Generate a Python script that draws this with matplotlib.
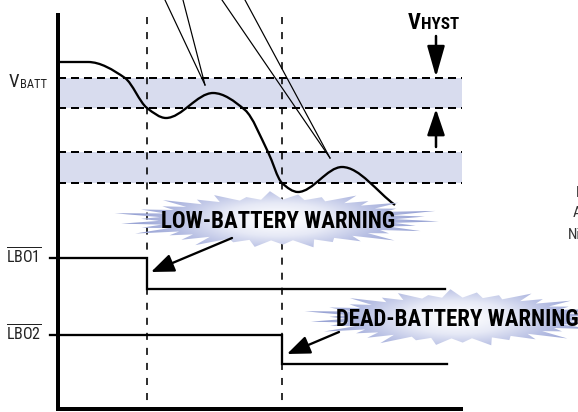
import numpy as np
import matplotlib
matplotlib.use('Agg')
import matplotlib.pyplot as plt
from matplotlib.path import Path
from matplotlib.patches import PathPatch, Rectangle
from matplotlib import font_manager as fm
from matplotlib.colors import LinearSegmentedColormap

names = {f.name for f in fm.fontManager.ttflist}
NARROW = next((n for n in ['Roboto Condensed', 'Archivo Narrow', 'PT Sans Narrow', 'DejaVu Sans']
               if n in names), 'DejaVu Sans')
FAM = [NARROW, 'DejaVu Sans']
plt.rcParams['font.family'] = FAM
plt.rcParams['mathtext.fontset'] = 'custom'
plt.rcParams['mathtext.rm'] = NARROW
plt.rcParams['mathtext.it'] = NARROW
plt.rcParams['mathtext.bf'] = NARROW + ':bold'

# ---------------- data (schematic coordinates) ----------------
event_times = [147, 282]                 # comparator trip instants
threshold_levels = [78, 108, 152, 183]   # upper/lower thresholds of both comparators
hyst_bands = [(78, 108), (152, 183)]
batt_t = [58, 88, 125, 147, 166, 213, 245, 268, 282, 298, 342, 395]
batt_v = [62, 62, 78, 108, 118, 93, 110, 152, 183, 192, 167, 205]
lbo1_t = [58, 147, 147, 445]
lbo1_v = [258, 258, 289, 289]
lbo2_t = [58, 282, 282, 447]
lbo2_v = [335, 335, 364, 364]
signal_labels = [r'$\overline{\mathrm{LBO1}}$', r'$\overline{\mathrm{LBO2}}$']
warning_labels = ['LOW-BATTERY WARNING', 'DEAD-BATTERY WARNING']
side_labels = ['Li-ION', 'ALKALINE', 'NiMH']

W, H = 578, 412
fig = plt.figure(figsize=(W / 100, H / 100), dpi=100)
ax = fig.add_axes([0, 0, 1, 1])
ax.set_xlim(0, W)
ax.set_ylim(H, 0)
ax.axis('off')

PX = 0.72  # points per pixel

# hysteresis bands
for lo, hi in hyst_bands:
    ax.add_patch(Rectangle((58, lo), 404, hi - lo, facecolor='#d8dcee', edgecolor='none', zorder=1))
for y in threshold_levels:
    ax.plot([58, 462], [y, y], color='black', lw=2 * PX, dashes=(4, 2.5), zorder=2)
for t in event_times:
    ax.plot([t, t], [17, 407], color='black', lw=1.6 * PX, dashes=(4.4, 5), zorder=2)

# axes
ax.plot([58, 58], [13, 409], color='black', lw=4 * PX, solid_capstyle='butt', zorder=5)
ax.plot([56, 463], [409, 409], color='black', lw=4 * PX, solid_capstyle='butt', zorder=5)

# battery curve: shape-preserving cubic Bezier through the read points
x = np.asarray(batt_t, float)
y = np.asarray(batt_v, float)
h = np.diff(x)
d = np.diff(y) / h
m = np.zeros_like(x)
for i in range(1, len(x) - 1):
    if d[i - 1] * d[i] > 0:
        w1 = 2 * h[i] + h[i - 1]
        w2 = h[i] + 2 * h[i - 1]
        m[i] = (w1 + w2) / (w1 / d[i - 1] + w2 / d[i])
m[-1] = d[-1]
verts = [(x[0], y[0])]
codes = [Path.MOVETO]
for i in range(len(x) - 1):
    verts += [(x[i] + h[i] / 3, y[i] + m[i] * h[i] / 3),
              (x[i + 1] - h[i] / 3, y[i + 1] - m[i + 1] * h[i] / 3),
              (x[i + 1], y[i + 1])]
    codes += [Path.CURVE4] * 3
ax.add_patch(PathPatch(Path(verts, codes), facecolor='none', edgecolor='black',
                       lw=2.3 * PX, zorder=4))

# leader lines from the (cropped) caption
for (xa, xb), tip in [((165, 183), (205, 85)), ((222, 245), (330, 158))]:
    for x0 in (xa, xb):
        ax.plot([x0, tip[0]], [0, tip[1]], color='black', lw=1.2 * PX, zorder=4)

# VBATT label
ax.text(9, 87, 'V', fontsize=13.5, ha='left', va='baseline', color='#222')
ax.text(20, 88, 'BATT', fontsize=9, ha='left', va='baseline', color='#222')

# VHYST label and arrows
ax.text(408, 29, 'V', fontsize=16, fontweight='bold', ha='left', va='baseline')
ax.text(421.5, 29, 'HYST', fontsize=12.3, fontweight='bold', ha='left', va='baseline')
arrow_kw = dict(arrowstyle='-|>,head_length=0.95,head_width=0.27', lw=2.5 * PX, color='black',
                mutation_scale=20, shrinkA=0, shrinkB=0)
ax.annotate('', xy=(436, 77), xytext=(436, 36), arrowprops=arrow_kw, zorder=6)
arrow_kw2 = dict(arrow_kw, arrowstyle='-|>,head_length=0.8,head_width=0.27')
ax.annotate('', xy=(436, 109), xytext=(436, 147), arrowprops=arrow_kw2, zorder=6)

# LBO signals
for t, v, lab in [(lbo1_t, lbo1_v, signal_labels[0]), (lbo2_t, lbo2_v, signal_labels[1])]:
    ax.plot(t, v, color='black', lw=2.3 * PX, zorder=4, solid_joinstyle='miter')
    ax.plot([50, 58], [v[0], v[0]], color='black', lw=2.3 * PX, zorder=4)
    ax.text(42, v[0] - 1, lab, fontsize=11.5, ha='right', va='center', color='#222')


# starbursts
def burst(cx, cy, rx, ry, n, rot):
    ang = np.linspace(0, 2 * np.pi, 2 * n, endpoint=False) + rot
    pattern = np.array([1.0, 0.88, 0.97, 0.84, 1.03, 0.92, 0.86])
    k = np.arange(2 * n)
    r = np.where(k % 2 == 0, pattern[(k // 2) % len(pattern)], 0.73)
    xs = cx + rx * r * np.cos(ang)
    ys = cy + ry * r * np.sin(ang)
    return np.column_stack([xs, ys])


cmap = LinearSegmentedColormap.from_list('b', ['#ffffff', '#e6e9f6', '#b6bee3', '#8f9bd0'])


def draw_burst(cx, cy, rx, ry, n, rot, text, tx):
    poly = burst(cx, cy, rx, ry, n, rot)
    patch = PathPatch(Path(np.vstack([poly, poly[:1]]), closed=True), facecolor='none',
                      edgecolor='none', zorder=7)
    ax.add_patch(patch)
    gx = np.linspace(cx - rx * 1.05, cx + rx * 1.05, 300)
    gy = np.linspace(cy - ry * 1.05, cy + ry * 1.05, 80)
    GX, GY = np.meshgrid(gx, gy)
    dd = np.sqrt(((GX - cx) / rx) ** 2 + ((GY - cy) / ry) ** 2 * 0.35)
    im = ax.imshow(dd, extent=(gx[0], gx[-1], gy[-1], gy[0]), cmap=cmap, vmin=0.05,
                   vmax=0.95, origin='upper', zorder=7, aspect='auto', interpolation='bilinear')
    im.set_clip_path(patch)
    ax.text(tx, cy + 1, text, fontsize=16.5, fontweight='bold', ha='center',
            va='center', color='black', zorder=8)


draw_burst(277, 220, 162, 28, 34, 0.05, warning_labels[0], 278)
draw_burst(457, 318, 152, 28, 34, 0.05, warning_labels[1], 457)
ax.set_xlim(0, W)
ax.set_ylim(H, 0)

# warning arrows
warn_kw = dict(arrowstyle='-|>,head_length=1.0,head_width=0.4', lw=2.3 * PX, color='black',
               mutation_scale=14, shrinkA=0, shrinkB=0)
ax.annotate('', xy=(151, 272), xytext=(232, 238), arrowprops=warn_kw, zorder=9)
ax.annotate('', xy=(287, 354), xytext=(339, 332), arrowprops=warn_kw, zorder=9)

# cropped side labels
for xx, yy, s in [(576, 193, side_labels[0]), (573, 213, side_labels[1]), (568, 235, side_labels[2])]:
    ax.text(xx, yy, s, fontsize=11, ha='left', va='center', color='#333')

fig.savefig('out.png', dpi=100)
